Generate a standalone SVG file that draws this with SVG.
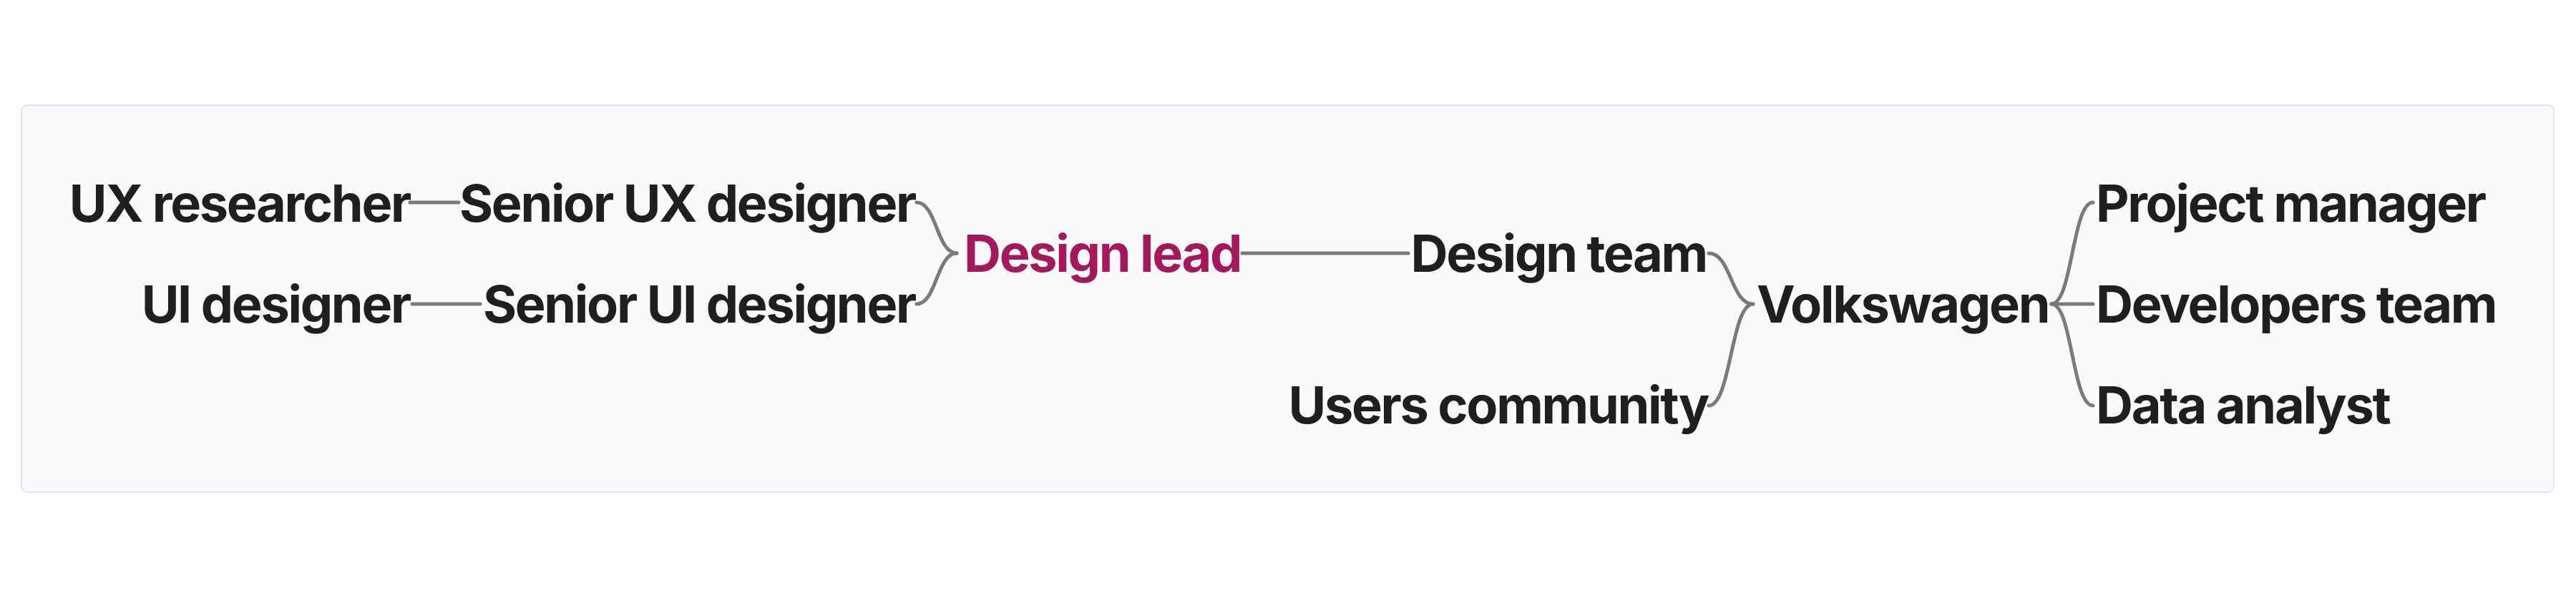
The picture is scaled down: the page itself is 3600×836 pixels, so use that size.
<svg xmlns="http://www.w3.org/2000/svg" width="3600" height="836" viewBox="0 0 3600 836">
<style>
.lbl{font-family:Inter,"Noto Sans","Liberation Sans",sans-serif;font-weight:700;font-size:72px;letter-spacing:-2.3px;fill:#1f1f1f}
.root{fill:#a3195b}
.end{text-anchor:end}
.link{fill:none;stroke:#7a7a7a;stroke-width:5;stroke-linecap:round}
</style>
<rect x="0" y="0" width="3600" height="836" fill="#ffffff"/>
<rect id="panel" x="30" y="147" width="3539" height="541" rx="8" fill="#fafafc" stroke="#e2e2f0" stroke-width="2"/>
<g id="connectors">
<path class="link" d="M573,283 H641"/>
<path class="link" d="M576,425 H671"/>
<path class="link" d="M1281,283 C1309,283 1309,354 1337,354"/>
<path class="link" d="M1281,425 C1309,425 1309,354 1337,354"/>
<path class="link" d="M1736,354 H1968"/>
<path class="link" d="M2388,354 C2419,354 2419,425 2450,425"/>
<path class="link" d="M2388,567 C2419,567 2419,425 2450,425"/>
<path class="link" d="M2867,425 C2896,425 2896,283 2925,283"/>
<path class="link" d="M2867,425 H2925"/>
<path class="link" d="M2867,425 C2896,425 2896,567 2925,567"/>
</g>
<g id="n-ux-researcher"><text class="lbl end" x="573" y="310">UX researcher</text></g>
<g id="n-senior-ux"><text class="lbl end" x="1279" y="310">Senior UX designer</text></g>
<g id="n-ui-designer"><text class="lbl end" x="573" y="451">UI designer</text></g>
<g id="n-senior-ui"><text class="lbl end" x="1279" y="451">Senior UI designer</text></g>
<g id="n-design-lead"><text class="lbl root" x="1347" y="380">Design lead</text></g>
<g id="n-design-team"><text class="lbl end" x="2385" y="380">Design team</text></g>
<g id="n-users-community"><text class="lbl end" x="2387" y="592">Users community</text></g>
<g id="n-volkswagen"><text class="lbl" x="2455" y="451">Volkswagen</text></g>
<g id="n-project-manager"><text class="lbl" x="2929" y="310">Project manager</text></g>
<g id="n-developers-team"><text class="lbl" x="2929" y="451">Developers team</text></g>
<g id="n-data-analyst"><text class="lbl" x="2929" y="592">Data analyst</text></g>
</svg>
